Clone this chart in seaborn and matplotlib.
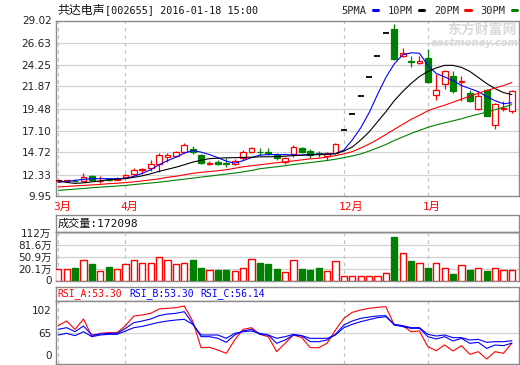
import numpy as np
import matplotlib
matplotlib.use("Agg")
import matplotlib.pyplot as plt
import seaborn as sns
from matplotlib.lines import Line2D

sns.set_style("white")
plt.rcParams['font.family'] = ['DejaVu Sans', 'Noto Sans CJK SC']

# ---------------- data ----------------
opens = [11.62, 11.65, 11.66, 11.62, 12.14, 11.62, 11.85, 11.76, 12.03, 12.43,
         12.79, 13.07, 13.52, 14.18, 14.29, 14.79, 15.09, 14.43, 13.45, 13.70,
         13.54, 13.45, 14.07, 14.79, 14.82, 14.75, 14.43, 13.70, 14.54, 15.16,
         14.90, 14.62, 14.32, 14.62, 17.19, 18.91, 20.80, 22.88, 25.17, 27.69,
         28.09, 25.17, 24.63, 24.45, 25.00, 20.99, 22.19, 23.06, 22.35, 21.17,
         19.43, 21.53, 17.71, 19.48, 19.16]
highs = [11.75, 11.78, 11.80, 12.52, 12.28, 12.17, 11.95, 12.06, 12.40, 13.09,
         13.00, 13.89, 14.62, 14.68, 14.85, 15.71, 15.45, 14.55, 13.83, 13.89,
         14.10, 13.96, 14.98, 15.34, 15.20, 15.16, 14.62, 14.25, 15.52, 15.30,
         15.09, 14.90, 14.79, 15.74, 17.19, 18.91, 20.80, 22.88, 25.17, 27.69,
         28.64, 26.09, 25.17, 25.17, 25.98, 23.17, 23.61, 23.53, 22.99, 21.46,
         21.35, 21.60, 20.08, 20.26, 21.53]
lows = [11.58, 11.62, 11.50, 11.58, 11.70, 11.45, 11.65, 11.70, 11.98, 12.25,
        12.43, 12.72, 12.61, 13.70, 14.20, 14.62, 14.54, 13.45, 13.34, 13.34,
        13.15, 13.34, 13.89, 14.62, 14.43, 14.43, 13.89, 13.52, 14.25, 14.70,
        14.07, 14.18, 13.89, 14.54, 17.19, 18.91, 20.80, 22.88, 25.17, 27.69,
        24.70, 25.10, 24.01, 24.27, 22.27, 20.44, 21.61, 21.17, 20.26, 20.14,
        19.35, 18.65, 17.27, 19.16, 19.05]
closes = [11.70, 11.72, 11.62, 12.06, 11.78, 11.68, 11.75, 11.85, 12.32, 12.87,
          12.98, 13.42, 14.40, 14.43, 14.79, 15.52, 14.73, 13.59, 13.63, 13.45,
          13.50, 13.81, 14.73, 15.16, 14.77, 14.70, 14.07, 14.07, 15.34, 14.79,
          14.43, 14.57, 14.62, 15.63, 17.19, 18.91, 20.80, 22.88, 25.17, 27.69,
          24.81, 25.55, 24.56, 24.63, 22.33, 21.53, 23.53, 21.35, 22.44, 20.26,
          20.80, 18.69, 19.97, 19.55, 21.42]
volumes = [19.1, 19.1, 22.6, 43.0, 33.3, 13.8, 25.3, 19.1, 32.4, 43.0,
           35.0, 35.0, 51.0, 43.0, 32.4, 35.0, 43.9, 22.6, 16.4, 17.3,
           17.3, 13.8, 21.7, 45.7, 35.9, 33.3, 20.0, 11.1, 43.0, 20.0,
           17.3, 22.6, 13.8, 40.4, 0.6, 0.6, 0.6, 0.6, 0.6, 8.5,
           102.4, 61.6, 41.2, 35.0, 22.6, 35.0, 22.6, 5.8, 29.7, 17.3,
           22.6, 14.7, 22.6, 17.3, 17.2]
ma5 = [11.48, 11.59, 11.70, 11.81, 11.88, 11.88, 11.88, 11.88, 11.92, 12.14,
       12.46, 12.85, 13.39, 13.83, 14.21, 14.65, 14.92, 14.76, 14.49, 14.16,
       13.78, 13.56, 13.83, 14.16, 14.43, 14.49, 14.49, 14.49, 14.45, 14.43,
       14.49, 14.54, 14.54, 14.60, 14.98, 16.07, 17.38, 19.02, 20.99, 22.85,
       24.32, 25.30, 25.52, 25.47, 24.16, 23.28, 22.90, 22.52, 21.97, 21.64,
       21.32, 20.77, 20.33, 20.00, 20.11]
ma10 = [11.70, 11.48, 11.37, 11.43, 11.54, 11.64, 11.75, 11.83, 11.88, 12.03,
        12.19, 12.41, 12.68, 12.90, 13.12, 13.39, 13.67, 13.88, 14.05, 14.10,
        14.14, 14.16, 14.18, 14.21, 14.25, 14.25, 14.27, 14.32, 14.38, 14.43,
        14.46, 14.49, 14.51, 14.60, 14.87, 15.31, 16.07, 16.94, 18.04, 19.13,
        20.33, 21.32, 22.19, 22.95, 23.50, 23.88, 24.16, 24.16, 23.94, 23.50,
        22.85, 22.19, 21.64, 21.21, 20.99]
ma20 = [10.99, 11.04, 11.10, 11.15, 11.21, 11.26, 11.34, 11.39, 11.45, 11.54,
        11.64, 11.75, 11.86, 12.03, 12.14, 12.30, 12.46, 12.57, 12.65, 12.74,
        12.85, 13.01, 13.17, 13.28, 13.39, 13.50, 13.61, 13.70, 13.81, 13.92,
        14.03, 14.10, 14.21, 14.38, 14.57, 14.81, 15.20, 15.63, 16.12, 16.67,
        17.22, 17.76, 18.31, 18.75, 19.24, 19.57, 19.84, 20.17, 20.50, 20.82,
        21.15, 21.43, 21.70, 21.97, 22.30]
ma30 = [10.61, 10.68, 10.75, 10.82, 10.90, 10.96, 11.02, 11.09, 11.15, 11.24,
        11.33, 11.41, 11.50, 11.61, 11.72, 11.83, 11.94, 12.05, 12.16, 12.27,
        12.38, 12.49, 12.62, 12.77, 12.96, 13.07, 13.17, 13.28, 13.41, 13.52,
        13.63, 13.74, 13.85, 13.99, 14.16, 14.34, 14.56, 14.87, 15.22, 15.58,
        16.02, 16.40, 16.78, 17.11, 17.44, 17.71, 17.93, 18.15, 18.37, 18.64,
        18.86, 19.10, 19.35, 19.62, 19.90]
rsi_a = [74.2, 79.8, 69.8, 82.2, 61.4, 65.0, 65.8, 65.8, 74.2, 85.8,
         87.0, 89.0, 94.2, 95.0, 95.8, 97.8, 79.8, 47.8, 48.2, 45.0,
         41.0, 57.0, 69.8, 71.8, 63.8, 61.0, 43.0, 53.0, 63.0, 59.8,
         47.8, 47.8, 53.0, 69.0, 83.0, 90.2, 93.0, 95.0, 96.2, 97.0,
         75.0, 74.2, 67.0, 67.8, 49.0, 44.2, 51.0, 43.8, 50.2, 39.8,
         43.0, 34.2, 43.0, 41.0, 53.30]
rsi_b = [69.8, 71.8, 67.0, 73.8, 63.0, 64.2, 65.0, 65.0, 71.0, 77.8,
         79.8, 82.2, 86.2, 88.2, 89.0, 91.0, 77.0, 61.0, 61.0, 59.0,
         54.2, 63.0, 67.8, 69.8, 63.8, 63.0, 53.0, 57.0, 63.0, 61.8,
         55.0, 55.0, 57.0, 63.8, 75.0, 79.8, 83.0, 84.6, 85.8, 86.2,
         75.0, 73.0, 71.0, 71.0, 61.0, 58.2, 61.0, 55.8, 59.0, 53.0,
         54.2, 47.0, 51.0, 50.2, 53.30]
rsi_c = [63.0, 65.0, 62.2, 67.0, 61.0, 63.0, 63.8, 63.8, 67.8, 71.8,
         73.4, 75.8, 78.2, 79.8, 81.0, 81.8, 75.8, 63.0, 63.0, 63.0,
         59.0, 65.0, 67.0, 67.8, 65.0, 63.0, 59.0, 61.0, 63.8, 62.2,
         59.0, 59.0, 59.0, 63.0, 71.8, 75.8, 79.0, 81.4, 83.8, 85.0,
         75.8, 74.2, 71.8, 71.8, 63.8, 61.8, 63.0, 59.8, 59.8, 57.0,
         57.8, 54.2, 55.0, 55.0, 56.14]

month_labels = ['3月', '4月', '12月', '1月']
month_index = [0, 8, 34, 44]
price_ticks = [9.95, 12.33, 14.72, 17.10, 19.48, 21.87, 24.25, 26.63, 29.02]
vol_ticks = [20.1, 50.9, 81.6, 112]
vol_tick_labels = ['20.1万', '50.9万', '81.6万', '112万']
rsi_tick_labels = ['0', '65', '102']
title_name = '共达电声'
title_rest = '[002655] 2016-01-18 15:00'
vol_header = '成交量:172098'
rsi_header = ['RSI_A:53.30', 'RSI_B:53.30', 'RSI_C:56.14']
ma_labels = ['5PMA', '10PM', '20PM', '30PM']

# ---------------- style / layout ----------------
RED, GREEN, BLUE, BLACK = '#ff0000', '#008000', '#0000ff', '#000000'
SPINE, GRID, DASH = '#8a8a8a', '#d2d2d2', '#c4c4c4'
W, H = 520, 365
fig = plt.figure(figsize=(W / 100, H / 100), dpi=100)
fig.patch.set_facecolor('white')


def rect(x0, y0, x1, y1):
    return [x0 / W, 1 - y1 / H, (x1 - x0) / W, (y1 - y0) / H]


ax_main = fig.add_axes(rect(56, 20.5, 519, 196.5))
ax_vh = fig.add_axes(rect(56, 214.5, 519, 232))
ax_vol = fig.add_axes(rect(56, 232, 519, 280.5))
ax_rh = fig.add_axes(rect(56, 287, 519, 300.5))
ax_rsi = fig.add_axes(rect(56, 300.5, 519, 364))

XLIM = (-0.27, 54.85)
mono_cjk = ['DejaVu Sans Mono', 'Noto Sans CJK SC']

for ax in (ax_main, ax_vh, ax_vol, ax_rh, ax_rsi):
    ax.set_xlim(*XLIM)
    ax.set_xticks([])
    for s in ax.spines.values():
        s.set_color(SPINE)
        s.set_linewidth(1.0)
        s.set_visible(True)
    ax.tick_params(axis='y', length=2, pad=1.2, colors=SPINE, labelcolor='#222222',
                   labelsize=7.5, width=0.8)
    ax.set_xlabel('')
    ax.set_ylabel('')

for ax in (ax_vh, ax_rh):
    ax.set_yticks([])

idx = np.arange(len(closes))
O, Hh, L, C = map(np.asarray, (opens, highs, lows, closes))
up = C >= O
flat = (O == Hh) & (Hh == L) & (L == C)
cols = np.where(up, RED, GREEN)

# ---------- main price panel ----------
ax_main.set_ylim(price_ticks[0], price_ticks[-1])
ax_main.set_yticks(price_ticks)
ax_main.set_yticklabels([f'{t:.2f}' for t in price_ticks])
for t in price_ticks[1:-1]:
    ax_main.axhline(t, color=GRID, lw=0.9, zorder=0)
for m in month_index:
    for ax in (ax_main, ax_vol, ax_rsi):
        ax.axvline(m, color=DASH, lw=0.9, ls=(0, (3, 3)), zorder=0)

ax_main.text(0.845, 0.945, '东方财富网', transform=ax_main.transAxes, ha='left', va='center',
             fontsize=10, fontweight='bold', color='#d9d9d9', family=['Noto Sans CJK SC'], zorder=0.5)
ax_main.text(0.81, 0.875, 'eastmoney.com', transform=ax_main.transAxes, ha='left', va='center',
             fontsize=7.2, fontweight='bold', style='italic', color='#d9d9d9', zorder=0.5)

sel = ~flat
ax_main.vlines(idx[sel], L[sel], Hh[sel], colors=cols[sel], lw=0.9, zorder=2)
body_bottom = np.minimum(O, C)
body_h = np.maximum(np.abs(C - O), 0.015)
ax_main.bar(idx[sel], body_h[sel], bottom=body_bottom[sel], width=0.68,
            color=np.where(up, 'white', GREEN)[sel], edgecolor=cols[sel], linewidth=0.9, zorder=3)
ax_main.hlines(C[flat], idx[flat] - 0.36, idx[flat] + 0.36, colors=BLACK, lw=1.3, zorder=3)

for series, c in zip((ma5, ma10, ma20, ma30), (BLUE, BLACK, RED, GREEN)):
    sns.lineplot(x=idx, y=series, ax=ax_main, color=c, lw=0.8, legend=False, zorder=4)
ax_main.set_xlabel('')
ax_main.set_ylabel('')
ax_main.set_xlim(*XLIM)

for m, lab in zip(month_index, month_labels):
    ax_main.annotate(lab, xy=(m, 0), xycoords=('data', 'axes fraction'), xytext=(-3.7, -7.2),
                     textcoords='offset points', ha='left', va='center', color=RED, fontsize=8,
                     family=mono_cjk)

fig.text(57 / W, 1 - 10.5 / H, title_name, ha='left', va='center', fontsize=8.6,
         color='#111111', family=['Noto Sans CJK SC'])
fig.text(105 / W, 1 - 10.5 / H, title_rest, ha='left', va='center', fontsize=7.3,
         color='#111111', family='DejaVu Sans Mono')
handles = [Line2D([], [], color=c, lw=2.2) for c in (BLUE, BLACK, RED, GREEN)]
fig.legend(handles, ma_labels, ncol=4, markerfirst=False, loc='center right',
           bbox_to_anchor=(517 / W, 1 - 10.5 / H), frameon=False, handlelength=0.5,
           handletextpad=0.6, columnspacing=0.95, borderpad=0, borderaxespad=0,
           prop={'family': 'DejaVu Sans Mono', 'size': 7.5})

# ---------- volume panel ----------
VOL_FLOOR, VOL_TOP = -10.6, 115.5
ax_vol.set_ylim(VOL_FLOOR, VOL_TOP)
ax_vol.set_yticks([VOL_FLOOR] + vol_ticks)
ax_vol.set_yticklabels(['0'] + vol_tick_labels)
for t in vol_ticks:
    ax_vol.axhline(t, color=GRID, lw=0.9, zorder=0)
V = np.asarray(volumes)
ax_vol.bar(idx, V - VOL_FLOOR, bottom=VOL_FLOOR, width=0.74,
           color=np.where(up, 'white', GREEN), edgecolor=cols, linewidth=1.0, zorder=3)
ax_vh.text(2 / 463, 0.5, vol_header, transform=ax_vh.transAxes, ha='left', va='center',
           fontsize=8, color='#111111', family=mono_cjk)

# ---------- RSI panel ----------
RSI_LIM = (28.2, 104.4)
rsi_tick_pos = [39.0, 65, 93.0]
ax_rsi.set_ylim(*RSI_LIM)
ax_rsi.set_yticks(rsi_tick_pos)
ax_rsi.set_yticklabels(rsi_tick_labels)
ax_rsi.axhline(65, color=GRID, lw=0.9, zorder=0)
for series, c in zip((rsi_a, rsi_b, rsi_c), (RED, BLUE, BLUE)):
    sns.lineplot(x=idx, y=series, ax=ax_rsi, color=c, lw=0.8, legend=False, zorder=3)
ax_rsi.set_xlabel('')
ax_rsi.set_ylabel('')
ax_rsi.set_xlim(*XLIM)
for xpx, txt, c in zip((57.5, 129, 200.7), rsi_header, (RED, BLUE, BLUE)):
    ax_rh.text((xpx - 56) / 463, 0.5, txt, transform=ax_rh.transAxes, ha='left', va='center',
               fontsize=7, color=c, family='DejaVu Sans Mono')

fig.savefig('out.png', dpi=100, facecolor='white')
